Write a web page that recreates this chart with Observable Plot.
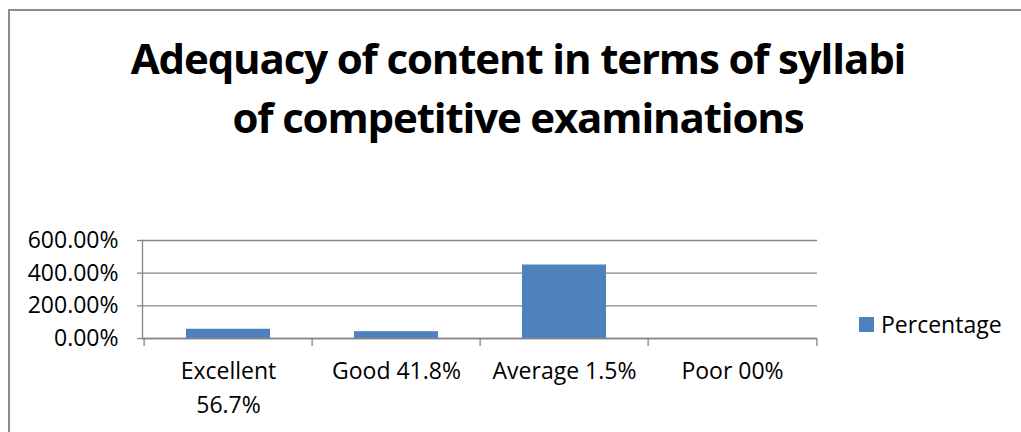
<!DOCTYPE html>
<html><head><meta charset="utf-8">
<script src="https://cdn.jsdelivr.net/npm/d3@7"></script>
<script src="https://cdn.jsdelivr.net/npm/@observablehq/plot@0.6"></script>
<style>
html,body{margin:0;padding:0;background:#fff;font-family:"Open Sans",sans-serif;color:#000;overflow:hidden;width:1021px;height:432px;}
#bt{position:absolute;left:8px;top:9px;width:1013px;height:2px;background:#8c8c8c;}
#bl{position:absolute;left:8px;top:9px;width:2px;height:423px;background:#8c8c8c;}
#title{position:absolute;left:10px;top:28px;width:1016px;text-align:center;font-weight:bold;font-size:42px;line-height:59px;letter-spacing:-1.15px;}
#chart{position:absolute;left:0;top:0;}
#legend{position:absolute;left:859px;top:308px;font-size:23px;display:flex;align-items:center;}
#legend span.sw{display:inline-block;width:15px;height:15px;background:#4F81BD;margin-right:7px;}
</style></head><body>
<div id="bt"></div><div id="bl"></div>
<div id="chart"></div>
<div id="title">Adequacy of content in terms of syllabi<br>of competitive examinations</div>
<div id="legend"><span class="sw"></span><span id="legname"></span></div>
<script>
const categories = ["Excellent 56.7%", "Good 41.8%", "Average 1.5%", "Poor 00%"];
const tickLabels = ["Excellent\n56.7%", "Good 41.8%", "Average 1.5%", "Poor 00%"];
const values = [0.567, 0.418, 4.5, 0];
const yTicks = [0, 2, 4, 6];
const seriesName = "Percentage";

const data = categories.map((c, i) => ({category: c, value: values[i]}));
document.getElementById("legname").textContent = seriesName;

const W = 1021, H = 432, ML = 142, MR = 204, MT = 240, MB = 94;
const PI = 0.5, PO = 0.25;
const step = (W - ML - MR) / (categories.length - PI + 2 * PO);
const grey = "#868686";

const plot = Plot.plot({
  width: W, height: H,
  marginLeft: ML, marginRight: MR, marginTop: MT, marginBottom: MB,
  style: {fontFamily: "'Open Sans', sans-serif", fontSize: "23px", color: "#000", background: "transparent", overflow: "visible"},
  x: {domain: categories, paddingInner: PI, paddingOuter: PO, label: null},
  y: {domain: [0, 6], label: null},
  marks: [
    Plot.gridY(yTicks, {stroke: grey, strokeOpacity: 1, strokeWidth: 1.3}),
    Plot.axisY(yTicks, {tickSize: 5, tickPadding: 19, tickFormat: d3.format(".2%"), stroke: grey, strokeWidth: 1.3, fill: "#000", fontSize: 23, label: null}),
    Plot.frame({anchor: "left", stroke: grey, strokeWidth: 1.3}),
    Plot.barY(data, {x: "category", y: "value", fill: "#4F81BD"}),
    Plot.ruleY([0], {stroke: grey, strokeWidth: 1.3}),
    Plot.axisX(categories, {tickSize: 8, tickFormat: () => "", dx: -step / 2, stroke: grey, strokeWidth: 1.3, label: null}),
    Plot.axisX([categories[categories.length - 1]], {tickSize: 8, tickFormat: () => "", dx: step / 2, stroke: grey, strokeWidth: 1.3, label: null}),
    Plot.axisX(categories, {tickSize: 0, tickPadding: 17, tickFormat: (d) => tickLabels[categories.indexOf(d)], fill: "#000", fontSize: 23, lineHeight: 1.45, label: null})
  ]
});
document.getElementById("chart").appendChild(plot);
</script>
</body></html>
